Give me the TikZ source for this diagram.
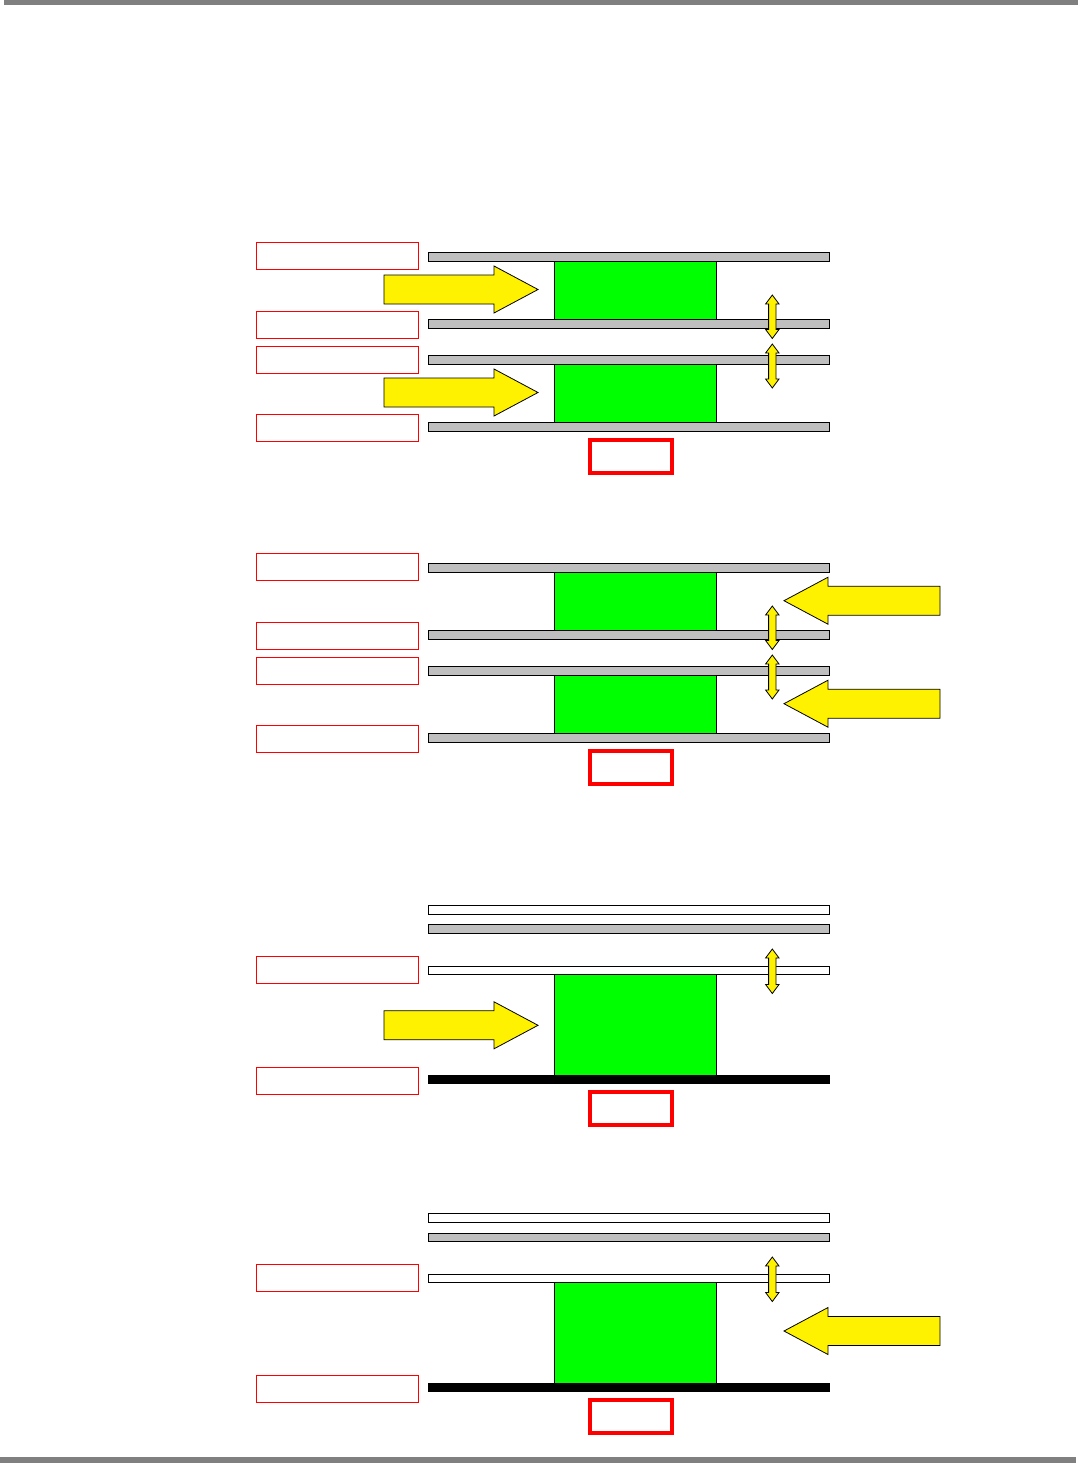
\documentclass[tikz,border=0pt]{standalone}
\begin{document}
\begin{tikzpicture}[x=1pt,y=-1pt,
  band/.style={fill=black!50,draw=none},
  redlabel/.style={draw=red,line width=1pt,fill=white},
  redbox/.style={draw=red,line width=3.3pt},
  graybar/.style={draw=black,line width=1pt,fill=black!25},
  whitebar/.style={draw=black,line width=1pt,fill=white},
  blackbar/.style={fill=black,draw=black,line width=1pt},
  block/.style={draw=black,line width=1pt,fill=green},
  bigarrow/.style={draw=black,line width=0.8pt,fill=yellow,line join=miter},
  dblarrow/.style={draw=black,line width=0.8pt,fill=yellow,line join=miter}]
\useasboundingbox (0,0) rectangle (1081,1463);
\fill[white] (0,0) rectangle (1081,1463);
% page bands
\path[band] (4,0) rectangle (1078,5);
\path[band] (0,1457) rectangle (1076,1463);
% helpers
\newcommand{\rlab}[1]{\path[redlabel] (256.5,#1) rectangle (418.5,#1+27);}
\newcommand{\rbox}[1]{\path[redbox] (590,#1) rectangle (672,#1+33);}
\newcommand{\rarr}[1]{\path[bigarrow] (384,#1-14.5) -- (494,#1-14.5) -- (494,#1-23.5) -- (538,#1) -- (494,#1+23.5) -- (494,#1+14.5) -- (384,#1+14.5) -- cycle;}
\newcommand{\larr}[1]{\path[bigarrow] (940,#1-14.5) -- (828,#1-14.5) -- (828,#1-23.5) -- (784,#1) -- (828,#1+23.5) -- (828,#1+14.5) -- (940,#1+14.5) -- cycle;}
\newcommand{\darr}[2]{\path[dblarrow] (772.3,#1) -- (779,#1+9) -- (776,#1+9) -- (776,#2-9) -- (779,#2-9) -- (772.3,#2) -- (765.6,#2-9) -- (768.6,#2-9) -- (768.6,#1+9) -- (765.6,#1+9) -- cycle;}
% ===== section 1 =====
\rlab{242.5} \rlab{311.5} \rlab{346.5} \rlab{414.5}
\path[block] (554.5,261) rectangle (716.5,319.5);
\path[block] (554.5,364) rectangle (716.5,422.5);
\path[graybar] (428.5,252.5) rectangle (829.5,261);
\path[graybar] (428.5,319.5) rectangle (829.5,328);
\path[graybar] (428.5,355.5) rectangle (829.5,364);
\path[graybar] (428.5,422.5) rectangle (829.5,431);
\rarr{289.5} \rarr{392.5}
\darr{295}{338.5} \darr{344}{388}
\rbox{440}
% ===== section 2 =====
\rlab{553.5} \rlab{622.5} \rlab{657.5} \rlab{725.5}
\path[block] (554.5,572) rectangle (716.5,630.5);
\path[block] (554.5,675) rectangle (716.5,733.5);
\path[graybar] (428.5,563.5) rectangle (829.5,572);
\path[graybar] (428.5,630.5) rectangle (829.5,639);
\path[graybar] (428.5,666.5) rectangle (829.5,675);
\path[graybar] (428.5,733.5) rectangle (829.5,742);
\larr{600.7} \larr{703.7}
\darr{606}{649.5} \darr{655}{699}
\rbox{751}
% ===== section 3 =====
\rlab{956.5} \rlab{1067.5}
\path[block] (554.5,974.5) rectangle (716.5,1075.5);
\path[whitebar] (428.5,905.5) rectangle (829.5,914);
\path[graybar] (428.5,924.5) rectangle (829.5,933);
\path[whitebar] (428.5,966.5) rectangle (829.5,974.5);
\path[blackbar] (428.5,1075.5) rectangle (829.5,1083);
\rarr{1025.3}
\darr{949}{993.5}
\rbox{1092}
% ===== section 4 =====
\rlab{1264.5} \rlab{1375.5}
\path[block] (554.5,1282.5) rectangle (716.5,1383.5);
\path[whitebar] (428.5,1213.5) rectangle (829.5,1222);
\path[graybar] (428.5,1233) rectangle (829.5,1241.5);
\path[whitebar] (428.5,1274.5) rectangle (829.5,1282.5);
\path[blackbar] (428.5,1383.5) rectangle (829.5,1391);
\larr{1331}
\darr{1257}{1301.5}
\rbox{1400}
\end{tikzpicture}
\end{document}
